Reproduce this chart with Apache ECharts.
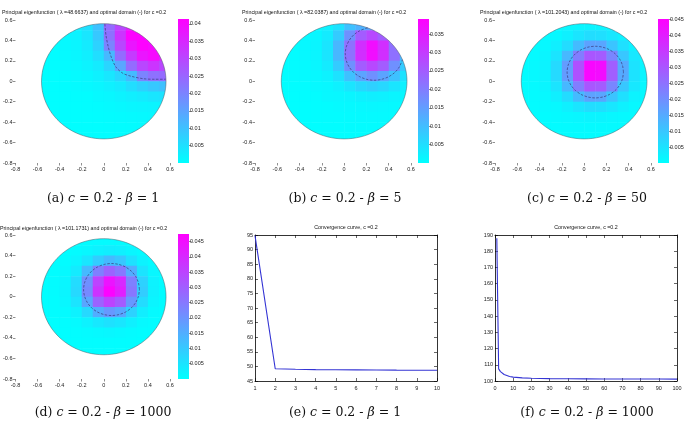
<!DOCTYPE html>
<html>
<head>
<meta charset="utf-8">
<title>Principal eigenfunctions and convergence curves</title>
<script src="https://cdn.jsdelivr.net/npm/echarts@6/dist/echarts.min.js"></script>
<style>
html, body { margin: 0; padding: 0; background: #fff; }
#main { width: 687px; height: 425px; }
</style>
</head>
<body>
<div id="main"></div>
<script>
// centres of the 0.1 x 0.1 cells used to sample the eigenfunction on the disk
const cellX = [-0.55, -0.45, -0.35, -0.25, -0.15, -0.05, 0.05, 0.15, 0.25, 0.35, 0.45, 0.55]
const cellY = [0.55, 0.45, 0.35, 0.25, 0.15, 0.05, -0.05, -0.15, -0.25, -0.35, -0.45, -0.55]
const n = null // cell does not touch the disk
const diskRadius = 0.5642 // disk of area 1

// eigenfunction values (top row first)
const fieldA = [
  [n, n, n, 0.0030, 0.0050, 0.0100, 0.0240, 0.0300, 0.0360, n, n, n],
  [n, n, 0.0012, 0.0020, 0.0040, 0.0090, 0.0230, 0.0330, 0.0410, 0.0410, n, n],
  [n, 0.0005, 0.0009, 0.0016, 0.0032, 0.0073, 0.0200, 0.0300, 0.0380, 0.0410, 0.0400, n],
  [0.0002, 0.0004, 0.0008, 0.0014, 0.0026, 0.0053, 0.0115, 0.0240, 0.0320, 0.0380, 0.0400, 0.0360],
  [0.0002, 0.0003, 0.0006, 0.0011, 0.0019, 0.0033, 0.0068, 0.0145, 0.0240, 0.0300, 0.0330, 0.0300],
  [0.0002, 0.0002, 0.0004, 0.0008, 0.0013, 0.0023, 0.0039, 0.0067, 0.0110, 0.0200, 0.0230, 0.0240],
  [0.0001, 0.0002, 0.0003, 0.0006, 0.0009, 0.0014, 0.0023, 0.0032, 0.0053, 0.0073, 0.0090, 0.0100],
  [0.0001, 0.0001, 0.0002, 0.0003, 0.0004, 0.0009, 0.0013, 0.0019, 0.0026, 0.0032, 0.0040, 0.0045],
  [0.0001, 0.0001, 0.0001, 0.0002, 0.0003, 0.0005, 0.0008, 0.0011, 0.0014, 0.0016, 0.0018, 0.0020],
  [n, 0.0001, 0.0001, 0.0001, 0.0002, 0.0003, 0.0005, 0.0006, 0.0008, 0.0009, 0.0012, n],
  [n, n, 0.0001, 0.0001, 0.0001, 0.0002, 0.0003, 0.0004, 0.0005, 0.0007, n, n],
  [n, n, n, 0.0001, 0.0001, 0.0001, 0.0002, 0.0003, 0.0004, n, n, n]
]
const fieldB = [
  [n, n, n, 0.0010, 0.0020, 0.0045, 0.0095, 0.0120, 0.0140, n, n, n],
  [n, n, 0.0009, 0.0014, 0.0030, 0.0080, 0.0170, 0.0250, 0.0280, 0.0250, n, n],
  [n, 0.0005, 0.0010, 0.0015, 0.0040, 0.0110, 0.0220, 0.0320, 0.0370, 0.0320, 0.0220, n],
  [0.0003, 0.0005, 0.0010, 0.0015, 0.0040, 0.0110, 0.0220, 0.0320, 0.0370, 0.0320, 0.0220, 0.0110],
  [0.0003, 0.0005, 0.0008, 0.0014, 0.0030, 0.0080, 0.0170, 0.0250, 0.0280, 0.0250, 0.0170, 0.0080],
  [0.0003, 0.0004, 0.0007, 0.0011, 0.0020, 0.0045, 0.0095, 0.0140, 0.0170, 0.0140, 0.0095, 0.0045],
  [0.0002, 0.0003, 0.0005, 0.0009, 0.0013, 0.0022, 0.0040, 0.0060, 0.0070, 0.0060, 0.0040, 0.0022],
  [0.0001, 0.0002, 0.0003, 0.0005, 0.0010, 0.0012, 0.0016, 0.0022, 0.0025, 0.0022, 0.0016, 0.0012],
  [0.0001, 0.0001, 0.0002, 0.0003, 0.0005, 0.0007, 0.0009, 0.0011, 0.0012, 0.0011, 0.0009, 0.0008],
  [n, 0.0001, 0.0002, 0.0003, 0.0004, 0.0005, 0.0006, 0.0007, 0.0007, 0.0007, 0.0006, n],
  [n, n, 0.0001, 0.0002, 0.0003, 0.0003, 0.0004, 0.0004, 0.0004, 0.0004, n, n],
  [n, n, n, 0.0001, 0.0001, 0.0001, 0.0002, 0.0002, 0.0002, n, n, n]
]
const fieldC = [
  [n, n, n, 0.0009, 0.0012, 0.0016, 0.0020, 0.0019, 0.0015, n, n, n],
  [n, n, 0.0009, 0.0013, 0.0027, 0.0046, 0.0060, 0.0057, 0.0042, 0.0024, n, n],
  [n, 0.0007, 0.0012, 0.0029, 0.0062, 0.0120, 0.0165, 0.0160, 0.0105, 0.0055, 0.0023, n],
  [0.0005, 0.0009, 0.0017, 0.0048, 0.0125, 0.0230, 0.0300, 0.0290, 0.0215, 0.0100, 0.0040, 0.0013],
  [0.0006, 0.0010, 0.0022, 0.0065, 0.0175, 0.0310, 0.0440, 0.0430, 0.0285, 0.0150, 0.0050, 0.0017],
  [0.0006, 0.0010, 0.0022, 0.0065, 0.0175, 0.0310, 0.0440, 0.0430, 0.0285, 0.0150, 0.0050, 0.0018],
  [0.0006, 0.0009, 0.0017, 0.0048, 0.0125, 0.0230, 0.0300, 0.0290, 0.0215, 0.0100, 0.0040, 0.0013],
  [0.0005, 0.0007, 0.0012, 0.0029, 0.0062, 0.0120, 0.0165, 0.0160, 0.0105, 0.0055, 0.0022, 0.0011],
  [0.0004, 0.0006, 0.0009, 0.0013, 0.0027, 0.0046, 0.0060, 0.0057, 0.0042, 0.0024, 0.0012, 0.0008],
  [n, 0.0004, 0.0006, 0.0009, 0.0012, 0.0016, 0.0020, 0.0019, 0.0015, 0.0011, 0.0008, n],
  [n, n, 0.0004, 0.0005, 0.0007, 0.0008, 0.0009, 0.0009, 0.0008, 0.0007, n, n],
  [n, n, n, 0.0004, 0.0004, 0.0005, 0.0005, 0.0005, 0.0005, n, n, n]
]
const fieldD = [
  [n, n, n, 0.0003, 0.0005, 0.0007, 0.0008, 0.0007, 0.0005, n, n, n],
  [n, n, 0.0003, 0.0007, 0.0015, 0.0025, 0.0032, 0.0028, 0.0017, 0.0008, n, n],
  [n, 0.0003, 0.0006, 0.0018, 0.0046, 0.0093, 0.0128, 0.0104, 0.0056, 0.0022, 0.0008, n],
  [0.0002, 0.0004, 0.0011, 0.0038, 0.0128, 0.0237, 0.0290, 0.0253, 0.0152, 0.0051, 0.0015, 0.0005],
  [0.0002, 0.0005, 0.0017, 0.0066, 0.0206, 0.0350, 0.0440, 0.0400, 0.0237, 0.0083, 0.0022, 0.0006],
  [0.0002, 0.0005, 0.0018, 0.0071, 0.0220, 0.0380, 0.0470, 0.0420, 0.0253, 0.0093, 0.0024, 0.0006],
  [0.0002, 0.0004, 0.0014, 0.0051, 0.0165, 0.0290, 0.0350, 0.0307, 0.0192, 0.0066, 0.0018, 0.0005],
  [0.0002, 0.0003, 0.0008, 0.0025, 0.0071, 0.0152, 0.0192, 0.0165, 0.0083, 0.0032, 0.0010, 0.0004],
  [0.0002, 0.0002, 0.0004, 0.0010, 0.0024, 0.0042, 0.0056, 0.0046, 0.0028, 0.0012, 0.0005, 0.0003],
  [n, 0.0002, 0.0002, 0.0004, 0.0007, 0.0011, 0.0014, 0.0012, 0.0008, 0.0004, 0.0003, n],
  [n, n, 0.0002, 0.0002, 0.0003, 0.0004, 0.0004, 0.0004, 0.0003, 0.0002, n, n],
  [n, n, n, 0.0002, 0.0002, 0.0002, 0.0002, 0.0002, 0.0002, n, n, n]
]

// colour bar tops
const vmaxA = 0.0414
const vmaxB = 0.0391
const vmaxC = 0.0452
const vmaxD = 0.0475

// optimal domain boundaries (dashed)
const domainA = [[0.01, 0.56], [0.02, 0.45], [0.04, 0.34], [0.07, 0.23], [0.11, 0.14], [0.17, 0.08], [0.245, 0.05], [0.36, 0.025], [0.46, 0.02], [0.56, 0.02]]
const domainB = [[0.211, 0.523], [0.14, 0.495], [0.086, 0.454], [0.045, 0.40], [0.019, 0.337], [0.01, 0.27], [0.019, 0.203], [0.045, 0.14], [0.086, 0.086], [0.14, 0.045], [0.203, 0.019], [0.27, 0.01], [0.337, 0.019], [0.40, 0.045], [0.454, 0.086], [0.495, 0.14], [0.523, 0.211]]
const domainC = [[0.353, 0.09], [0.344, 0.156], [0.319, 0.217], [0.279, 0.269], [0.227, 0.309], [0.166, 0.334], [0.1, 0.343], [0.034, 0.334], [-0.027, 0.309], [-0.079, 0.269], [-0.119, 0.217], [-0.144, 0.156], [-0.153, 0.09], [-0.144, 0.024], [-0.119, -0.037], [-0.079, -0.089], [-0.027, -0.129], [0.034, -0.154], [0.1, -0.163], [0.166, -0.154], [0.227, -0.129], [0.279, -0.089], [0.319, -0.037], [0.344, 0.024], [0.353, 0.09]]
const domainD = [[0.323, 0.07], [0.314, 0.136], [0.289, 0.197], [0.249, 0.249], [0.197, 0.289], [0.136, 0.314], [0.07, 0.323], [0.004, 0.314], [-0.057, 0.289], [-0.109, 0.249], [-0.149, 0.197], [-0.174, 0.136], [-0.183, 0.07], [-0.174, 0.004], [-0.149, -0.057], [-0.109, -0.109], [-0.057, -0.149], [0.004, -0.174], [0.07, -0.183], [0.136, -0.174], [0.197, -0.149], [0.249, -0.109], [0.289, -0.057], [0.314, 0.004], [0.323, 0.07]]

// convergence curves
const iterE = [1, 2, 3, 4, 5, 6, 7, 8, 9, 10]
const lambdaE = [94.8, 49.2, 49.0, 48.9, 48.85, 48.8, 48.76, 48.72, 48.69, 48.66]
const iterF = [1, 2, 3, 4, 5, 6, 8, 10, 15, 20, 30, 40, 50, 60, 70, 80, 90, 100]
const lambdaF = [188, 107.5, 105.8, 104.7, 104, 103.5, 102.8, 102.4, 101.9, 101.7, 101.45, 101.35, 101.3, 101.26, 101.23, 101.21, 101.19, 101.18]

const lambdaText = ['48.6637', '82.0387', '101.2043', '101.1731']

const diskPanels = [
  { field: fieldA, domain: domainA, vmax: vmaxA, left: 14, top: 20, height: 143, cbLeft: 178, titleX: 2, titleY: 13, lambda: lambdaText[0] },
  { field: fieldB, domain: domainB, vmax: vmaxB, left: 255, top: 20, height: 143, cbLeft: 418, titleX: 242, titleY: 13, lambda: lambdaText[1] },
  { field: fieldC, domain: domainC, vmax: vmaxC, left: 495, top: 20, height: 143, cbLeft: 658, titleX: 480, titleY: 13, lambda: lambdaText[2] },
  { field: fieldD, domain: domainD, vmax: vmaxD, left: 14, top: 235, height: 144, cbLeft: 178, titleX: 0, titleY: 229, lambda: lambdaText[3] }
]

const chart = echarts.init(document.getElementById('main'))

const font = 'Liberation Sans, Arial, sans-serif'
const smallLabel = { fontSize: 5.5, color: '#222', fontFamily: font }
const half = 0.05

// outline of the disk in pixels, through the axes of the panel
function diskPoints (api) {
  const pts = []
  for (let k = 0; k < 96; k++) {
    const t = k / 96 * Math.PI * 2
    pts.push(api.coord([diskRadius * Math.cos(t), diskRadius * Math.sin(t)]))
  }
  return pts
}

const grids = []
const xAxes = []
const yAxes = []
const series = []
const visualMaps = []
const graphics = []
const plainTick = { show: true, length: 2.5, lineStyle: { color: '#444', width: 0.6 } }

diskPanels.forEach(p => {
  const gi = grids.length
  grids.push({ left: p.left, top: p.top, width: 156, height: p.height })
  xAxes.push({
    gridIndex: gi, type: 'value', min: -0.8, max: 0.6, interval: 0.2,
    axisLine: { show: false, onZero: false }, splitLine: { show: false },
    axisTick: plainTick, axisLabel: { ...smallLabel, margin: 3 }
  })
  yAxes.push({
    gridIndex: gi, type: 'value', min: -0.8, max: 0.6, interval: 0.2,
    axisLine: { show: false, onZero: false }, splitLine: { show: false },
    axisTick: plainTick, axisLabel: { ...smallLabel, margin: 3 }
  })

  const cells = []
  p.field.forEach((row, r) => row.forEach((v, c) => {
    if (v !== null) cells.push([cellX[c], cellY[r], v])
  }))
  visualMaps.push({
    type: 'continuous', show: false, min: 0, max: p.vmax, dimension: 2,
    seriesIndex: series.length, inRange: { color: ['#00ffff', '#ff00ff'] }
  })
  series.push({
    type: 'custom', xAxisIndex: gi, yAxisIndex: gi, data: cells, silent: true,
    encode: { x: 0, y: 1 },
    renderItem: (params, api) => {
      const a = api.coord([api.value(0) - half, api.value(1) + half])
      const b = api.coord([api.value(0) + half, api.value(1) - half])
      return {
        type: 'rect',
        shape: { x: a[0], y: a[1], width: b[0] - a[0] + 0.5, height: b[1] - a[1] + 0.5 },
        style: { fill: api.visual('color') },
        clipPath: { type: 'polygon', shape: { points: diskPoints(api) } }
      }
    }
  })
  // thin rim of the disk
  series.push({
    type: 'custom', xAxisIndex: gi, yAxisIndex: gi, data: [[0, 0]], silent: true,
    renderItem: (params, api) => ({
      type: 'polygon',
      shape: { points: diskPoints(api) },
      style: { fill: 'none', stroke: '#505a66', lineWidth: 0.5 }
    })
  })
  series.push({
    type: 'line', xAxisIndex: gi, yAxisIndex: gi, data: p.domain, smooth: 0.3,
    showSymbol: false, silent: true,
    lineStyle: { color: '#3a3a78', width: 0.7, type: [2.5, 1.5] }
  })

  // colour bar
  const ci = grids.length
  grids.push({ left: p.cbLeft, top: p.top - 1, width: 11, height: p.height + 1 })
  xAxes.push({ gridIndex: ci, type: 'value', min: 0, max: 1, show: false })
  yAxes.push({
    gridIndex: ci, type: 'value', position: 'right', min: 0, max: p.vmax, interval: 0.005,
    axisLine: { show: false, onZero: false }, splitLine: { show: false },
    axisTick: plainTick,
    axisLabel: { ...smallLabel, margin: 1, showMinLabel: false, showMaxLabel: false }
  })
  series.push({
    type: 'custom', xAxisIndex: ci, yAxisIndex: ci, data: [[0, p.vmax]], silent: true,
    renderItem: (params, api) => {
      const a = api.coord([0, api.value(1)])
      const b = api.coord([1, 0])
      return {
        type: 'rect',
        shape: { x: a[0], y: a[1], width: b[0] - a[0], height: b[1] - a[1] },
        style: {
          fill: new echarts.graphic.LinearGradient(0, 0, 0, 1, [
            { offset: 0, color: '#ff00ff' },
            { offset: 1, color: '#00ffff' }
          ])
        }
      }
    }
  })

  graphics.push({
    type: 'text', x: p.titleX, y: p.titleY,
    style: {
      text: 'Principal eigenfunction ( λ =' + p.lambda + ') and optimal domain (-) for c =0.2',
      font: '5.3px ' + font, fill: '#111', verticalAlign: 'middle'
    }
  })
})

// convergence panels
const convPanels = [
  { iter: iterE, lambda: lambdaE, xMin: 1, xMax: 10, xStep: 1, yMin: 45, yMax: 95, yStep: 5, left: 255 },
  { iter: iterF, lambda: lambdaF, xMin: 0, xMax: 100, xStep: 10, yMin: 100, yMax: 190, yStep: 10, left: 495 }
]
const boxLine = { show: true, onZero: false, lineStyle: { color: '#000', width: 0.8 } }
const inTick = { show: true, inside: true, length: 3, lineStyle: { color: '#000', width: 0.6 } }
const convStart = grids.length
convPanels.forEach(p => {
  const gi = grids.length
  grids.push({ left: p.left, top: 235, width: 182, height: 146 })
  series.push({
    type: 'line', xAxisIndex: gi, yAxisIndex: gi,
    data: p.iter.map((it, i) => [it, p.lambda[i]]),
    showSymbol: false, silent: true,
    lineStyle: { color: '#3434d4', width: 1.1 }
  })
  graphics.push({
    type: 'text', x: p.left + 91, y: 228,
    style: { text: 'Convergence curve, c =0.2', font: '5.3px ' + font, fill: '#111', align: 'center', verticalAlign: 'middle' }
  })
})
// axes for convergence grids: bottom/left with labels, then mirrored top/right
convPanels.forEach((p, k) => {
  xAxes.push({
    gridIndex: convStart + k, type: 'value', min: p.xMin, max: p.xMax, interval: p.xStep,
    axisLine: boxLine, axisTick: inTick, splitLine: { show: false },
    axisLabel: { ...smallLabel, margin: 4 }
  })
  yAxes.push({
    gridIndex: convStart + k, type: 'value', min: p.yMin, max: p.yMax, interval: p.yStep,
    axisLine: boxLine, axisTick: inTick, splitLine: { show: false },
    axisLabel: { ...smallLabel, margin: 2 }
  })
})
convPanels.forEach((p, k) => {
  xAxes.push({
    gridIndex: convStart + k, type: 'value', position: 'top', min: p.xMin, max: p.xMax, interval: p.xStep,
    axisLine: boxLine, axisTick: inTick, axisLabel: { show: false }, splitLine: { show: false }
  })
  yAxes.push({
    gridIndex: convStart + k, type: 'value', position: 'right', min: p.yMin, max: p.yMax, interval: p.yStep,
    axisLine: boxLine, axisTick: inTick, axisLabel: { show: false }, splitLine: { show: false }
  })
})

// sub-figure captions
const captions = [
  ['a', '1', 103, 199], ['b', '5', 345, 199], ['c', '50', 587, 199],
  ['d', '1000', 103, 413], ['e', '1', 345, 413], ['f', '1000', 587, 413]
]
captions.forEach(c => {
  graphics.push({
    type: 'text', x: c[2], y: c[3],
    style: {
      text: '{n|(' + c[0] + ') }{i|c}{n| = 0.2 - }{i|β}{n| = ' + c[1] + '}',
      align: 'center', verticalAlign: 'middle',
      rich: {
        n: { fontFamily: 'DejaVu Serif, Liberation Serif, serif', fontSize: 12.5, fill: '#111' },
        i: { fontFamily: 'DejaVu Serif, Liberation Serif, serif', fontSize: 12.5, fontStyle: 'italic', fill: '#111' }
      }
    }
  })
})

chart.setOption({
  backgroundColor: '#fff',
  animation: false,
  grid: grids,
  xAxis: xAxes,
  yAxis: yAxes,
  visualMap: visualMaps,
  series: series,
  graphic: graphics
})

window.addEventListener('resize', () => {
  chart.resize()
})
</script>
</body>
</html>
